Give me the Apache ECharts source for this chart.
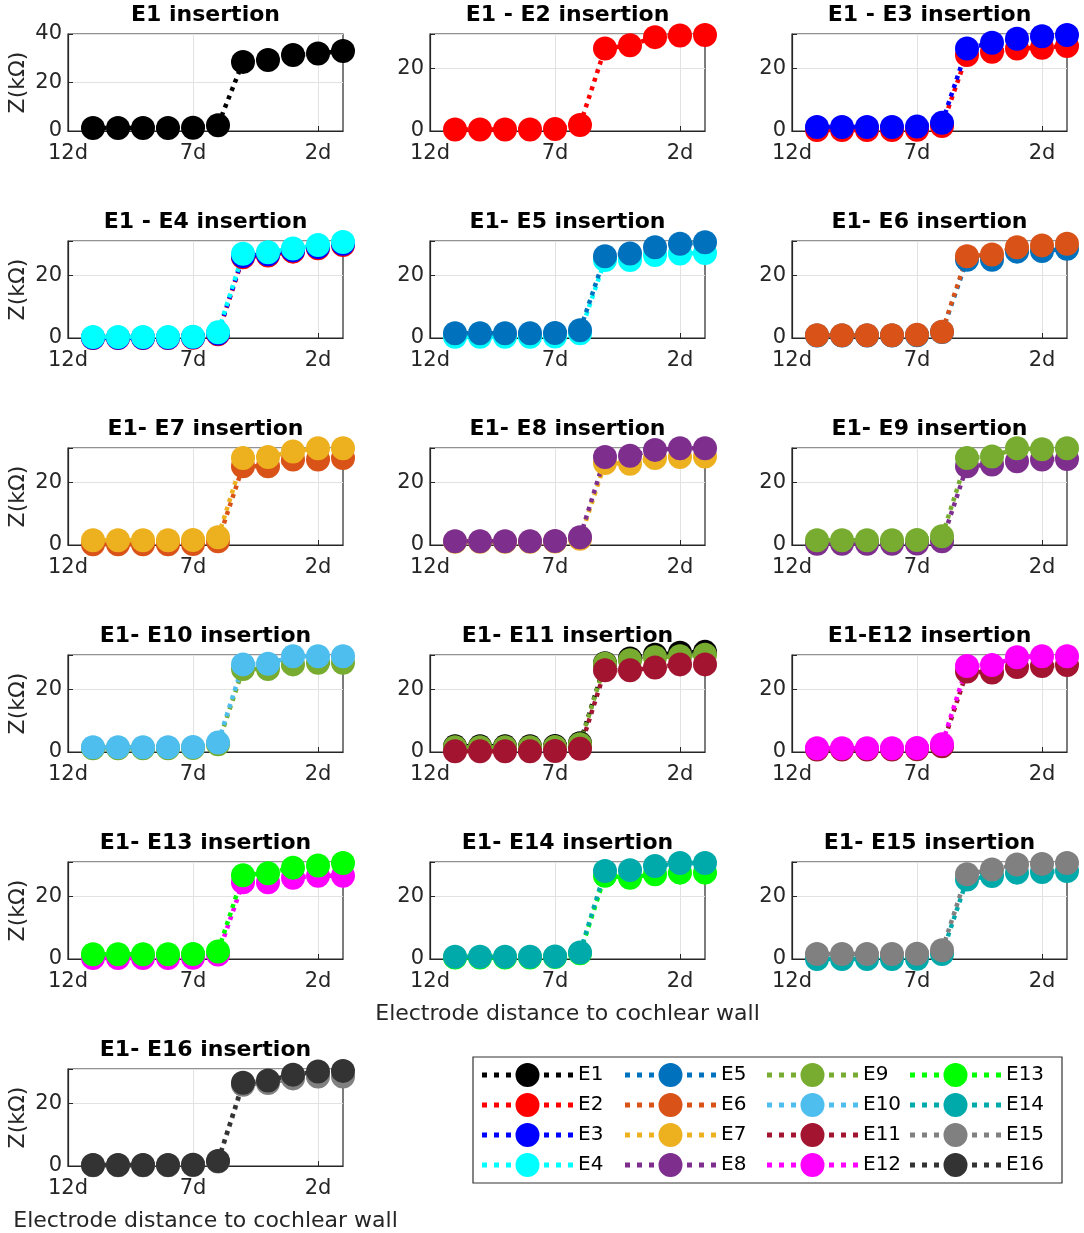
<!DOCTYPE html>
<html><head><meta charset="utf-8">
<script src="https://cdn.jsdelivr.net/npm/echarts@6/dist/echarts.min.js"></script>
<style>html,body{margin:0;padding:0;background:#fff}#c{width:1084px;height:1233px}</style>
</head><body><div id="c"></div><script>
// ---------- data ----------
const xCats = ['12d','11d','10d','9d','8d','7d','6d','5d','4d','3d','2d','1d'];
const pointCats = ['11d','10d','9d','8d','7d','6d','5d','4d','3d','2d','1d'];
const electrodes = ['E1','E2','E3','E4','E5','E6','E7','E8','E9','E10','E11','E12','E13','E14','E15','E16'];
const colors = ['#000000','#ff0000','#0000ff','#00ffff','#0072bd','#d95319','#edb120','#7e2f8e',
                '#77ac30','#4dbeee','#a2142f','#ff00ff','#00ff00','#00aaaa','#808080','#333333'];
const titles = ['E1 insertion','E1 - E2 insertion','E1 - E3 insertion','E1 - E4 insertion','E1- E5 insertion',
  'E1- E6 insertion','E1- E7 insertion','E1- E8 insertion','E1- E9 insertion','E1- E10 insertion',
  'E1- E11 insertion','E1-E12 insertion','E1- E13 insertion','E1- E14 insertion','E1- E15 insertion','E1- E16 insertion'];
const yTicksFirst = [0, 20, 40];
const yTicksOther = [0, 20];

// values per panel (impedance, kOhm) at 11d ... 1d
const P1_E1   = [1.2,1.2,1.2,1.2,1.3,2.4,28.5,29.3,31.3,32.0,33.0];
const P2_E2   = [0.5,0.5,0.5,0.5,0.6,1.9,26.4,27.4,30.0,30.5,30.7];
const P3_E2   = [0.3,0.3,0.3,0.3,0.4,1.6,24.3,25.3,26.4,26.6,27.2];
const P3_E3   = [1.3,1.3,1.3,1.3,1.4,2.6,26.4,28.2,29.5,30.3,30.7];
const P4_E2   = [0.0,0.0,0.0,0.0,0.1,1.2,25.8,26.4,27.6,28.7,29.7];
const P4_E3   = [0.1,0.1,0.1,0.1,0.2,1.4,26.2,26.8,28.0,29.1,30.1];
const P4_E4   = [0.3,0.3,0.3,0.3,0.4,1.8,26.9,27.4,28.6,29.7,30.7];
const P5_E4   = [0.4,0.4,0.4,0.4,0.5,1.5,24.9,24.9,26.5,27.0,27.2];
const P5_E5   = [1.5,1.5,1.5,1.5,1.6,2.5,26.1,27.0,29.0,30.1,30.6];
const P6_E5   = [0.8,0.8,0.8,0.8,0.9,1.9,25.0,25.0,27.6,27.8,28.5];
const P6_E6   = [0.9,0.9,0.9,0.9,1.0,2.0,26.1,26.7,29.0,29.6,30.1];
const P7_E6   = [0.2,0.2,0.2,0.2,0.3,1.2,25.2,25.2,27.3,27.3,27.8];
const P7_E7   = [1.5,1.5,1.5,1.5,1.6,2.5,27.8,28.1,29.9,30.9,30.9];
const P8_E7   = [1.0,1.0,1.0,1.0,1.1,2.0,26.2,26.0,27.8,28.1,28.3];
const P8_E8   = [1.2,1.2,1.2,1.2,1.3,2.5,28.1,28.5,30.4,30.9,30.9];
const P9_E8   = [0.4,0.4,0.4,0.4,0.5,1.2,25.2,25.7,26.8,27.3,27.5];
const P9_E9   = [1.5,1.5,1.5,1.5,1.6,2.8,27.8,28.3,30.9,30.6,30.9];
const P10_E9  = [1.2,1.2,1.2,1.2,1.3,2.5,26.5,26.5,28.0,28.5,28.5];
const P10_E10 = [1.5,1.5,1.5,1.5,1.6,3.0,28.0,28.2,30.6,30.6,30.6];
const P11_E1  = [1.8,1.8,1.8,1.8,1.9,2.8,28.4,29.9,31.1,31.7,32.0];
const P11_E9  = [1.5,1.5,1.5,1.5,1.6,2.5,28.2,29.3,30.3,30.6,31.1];
const P11_E11 = [0.2,0.2,0.2,0.2,0.3,1.0,26.1,26.1,27.0,28.0,28.0];
const P12_E11 = [0.8,0.8,0.8,0.8,0.9,1.8,25.7,25.4,27.2,27.5,27.8];
const P12_E12 = [1.2,1.2,1.2,1.2,1.3,2.5,27.5,27.8,30.3,30.6,30.6];
const P13_E12 = [0.3,0.3,0.3,0.3,0.4,1.4,24.5,24.5,26.0,26.6,26.6];
const P13_E13 = [1.5,1.5,1.5,1.5,1.6,2.4,26.8,27.4,29.2,29.9,30.7];
const P14_E13 = [0.5,0.5,0.5,0.5,0.6,1.8,26.6,26.0,27.1,27.6,27.6];
const P14_E14 = [0.7,0.7,0.7,0.7,0.8,2.1,28.1,28.4,29.7,30.7,30.7];
const P15_E14 = [0.0,0.0,0.0,0.0,0.1,1.6,25.4,26.5,27.6,27.8,28.1];
const P15_E15 = [1.6,1.6,1.6,1.6,1.7,2.8,27.1,28.6,30.2,30.4,30.7];
const P16_E15 = [0.2,0.2,0.2,0.2,0.3,1.4,26.0,26.5,28.0,28.6,28.6];
const P16_E16 = [0.3,0.3,0.3,0.3,0.4,1.6,26.6,27.3,29.2,30.2,30.4];

const panels = [
  [['E1',P1_E1]],
  [['E2',P2_E2]],
  [['E2',P3_E2],['E3',P3_E3]],
  [['E2',P4_E2],['E3',P4_E3],['E4',P4_E4]],
  [['E4',P5_E4],['E5',P5_E5]],
  [['E5',P6_E5],['E6',P6_E6]],
  [['E6',P7_E6],['E7',P7_E7]],
  [['E7',P8_E7],['E8',P8_E8]],
  [['E8',P9_E8],['E9',P9_E9]],
  [['E9',P10_E9],['E10',P10_E10]],
  [['E1',P11_E1],['E9',P11_E9],['E11',P11_E11]],
  [['E11',P12_E11],['E12',P12_E12]],
  [['E12',P13_E12],['E13',P13_E13]],
  [['E13',P14_E13],['E14',P14_E14]],
  [['E14',P15_E14],['E15',P15_E15]],
  [['E15',P16_E15],['E16',P16_E16]]
];

// ---------- layout ----------
const FONT = '"DejaVu Sans", "Liberation Sans", Arial, sans-serif';
const colLeft = [68, 430, 792];
const rowTop = [34, 241, 448, 655, 862, 1069];
const plotW = 275, plotH = 97;
const axisColor = '#262626';
const gridColor = '#e2e2e2';

const grids = [], xAxes = [], yAxes = [], series = [], graphics = [];
panels.forEach((pan, i) => {
  const r = Math.floor(i / 3), c = i % 3;
  const left = colLeft[c], top = rowTop[r];
  grids.push({left: left, top: top, width: plotW, height: plotH, show: true,
    borderColor: axisColor, borderWidth: 1.2, backgroundColor: '#fff', outerBoundsMode: 'none', containLabel: false});
  const showXName = (i === 13 || i === 15);
  xAxes.push({gridIndex: i, type: 'category', data: xCats, boundaryGap: false,
    axisLine: {show: true, onZero: false, lineStyle: {color: axisColor, width: 1.2}},
    axisTick: {show: true, inside: true, length: 5, interval: 4, lineStyle: {color: axisColor}},
    axisLabel: {interval: 4, fontSize: 21, color: axisColor, fontFamily: FONT, margin: 12},
    splitLine: {show: true, interval: 4, lineStyle: {color: gridColor, width: 1}},
    name: showXName ? 'Electrode distance to cochlear wall' : '',
    nameLocation: 'middle', nameGap: 44,
    nameTextStyle: {fontSize: 22, color: axisColor, fontFamily: FONT}
  });
  const ticks = i === 0 ? yTicksFirst : yTicksOther;
  yAxes.push({gridIndex: i, type: 'value', min: 0, max: i === 0 ? 40 : 31, interval: 20,
    axisLine: {show: true, lineStyle: {color: axisColor, width: 1.2}},
    axisTick: {show: true, inside: true, length: 5, lineStyle: {color: axisColor}},
    axisLabel: {fontSize: 21, color: axisColor, fontFamily: FONT, margin: 6,
      formatter: v => ticks.indexOf(v) >= 0 ? String(v) : ''},
    splitLine: {show: true, lineStyle: {color: gridColor, width: 1}},
    name: c === 0 ? 'Z(k\u03a9)' : '', nameLocation: 'middle', nameRotate: 90, nameGap: 39,
    nameTextStyle: {fontSize: 22, color: axisColor, fontFamily: FONT}
  });
  pan.forEach(([name, vals]) => {
    const col = colors[electrodes.indexOf(name)];
    series.push({type: 'line', name: name, xAxisIndex: i, yAxisIndex: i,
      data: pointCats.map((cat, j) => [cat, vals[j]]),
      symbol: 'circle', symbolSize: 24, showSymbol: true, showAllSymbol: true, clip: false,
      silent: true, animation: false,
      lineStyle: {color: col, width: 4.5, type: [4, 5], cap: 'butt'},
      itemStyle: {color: col, borderWidth: 0}
    });
  });
  graphics.push({type: 'text', x: left + plotW / 2, y: top - 19, silent: true,
    style: {text: titles[i], fill: '#000', font: 'bold 22px ' + FONT, align: 'center', verticalAlign: 'middle'}});
});

// legend box
graphics.push({type: 'rect', silent: true, shape: {x: 473, y: 1057, width: 589, height: 126},
  style: {fill: 'none', stroke: '#333', lineWidth: 1.2}});

const legendIcon = 'path://M0,9.5h5v5h-5z M12,9.5h5v5h-5z M24,9.5h5v5h-5z M33.5,12a12,12 0 1,0 24,0a12,12 0 1,0 -24,0z M62,9.5h5v5h-5z M74,9.5h5v5h-5z M86,9.5h5v5h-5z';
const legendLeft = [482, 625, 767, 910];
const legends = [0, 1, 2, 3].map(k => ({
  orient: 'vertical', left: legendLeft[k], top: 1063, padding: 0,
  itemWidth: 91, itemHeight: 24, itemGap: 6, icon: legendIcon, selectedMode: false,
  itemStyle: {borderWidth: 0},
  data: electrodes.slice(k * 4, k * 4 + 4),
  textStyle: {fontSize: 20, color: '#000', fontFamily: FONT, padding: [0, 0, 0, 0]}
}));

const chart = echarts.init(document.getElementById('c'), null, {renderer: 'canvas'});
chart.setOption({
  backgroundColor: '#fff', animation: false,
  grid: grids, xAxis: xAxes, yAxis: yAxes, series: series,
  legend: legends, graphic: graphics
});
</script></body></html>
